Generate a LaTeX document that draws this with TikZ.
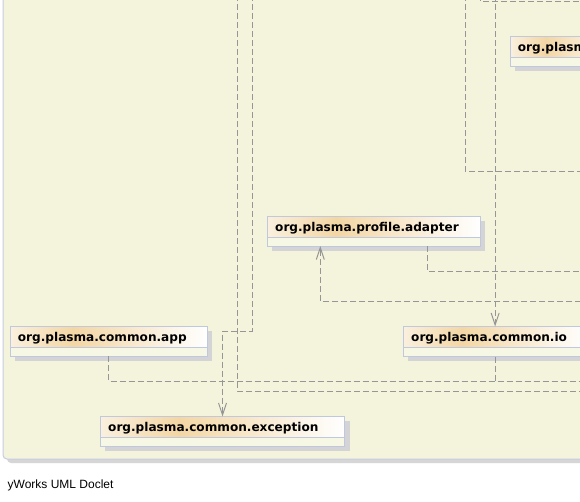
\documentclass[tikz,border=0pt]{standalone}
\usepackage{fontspec}
\setmainfont{DejaVu Sans}
\newfontfamily\capfont{Liberation Sans}
\usetikzlibrary{arrows.meta,calc}
\definecolor{bg}{RGB}{244,244,220}
\definecolor{panelborder}{RGB}{198,204,226}
\definecolor{panelshadow}{RGB}{214,214,214}
\definecolor{boxborder}{RGB}{192,200,222}
\definecolor{compfill}{RGB}{247,247,230}
\definecolor{boxshadow}{RGB}{212,212,214}
\definecolor{hdrA}{RGB}{250,240,222}
\definecolor{hdrB}{RGB}{243,214,164}
\definecolor{edgegray}{RGB}{150,150,150}
\pgfdeclarehorizontalshading{hdrshade}{100bp}{color(0bp)=(hdrA); color(25bp)=(hdrA); color(41bp)=(hdrB); color(75bp)=(white); color(100bp)=(white)}
\tikzset{
  edge/.style={draw=edgegray, line width=1pt, dash pattern=on 6pt off 3pt},
  tip/.style={-{Straight Barb[length=12pt,width=8pt,line width=1pt]}},
  classbox/.style={anchor=north west, inner sep=0pt, outer sep=0pt, minimum height=30pt},
  cname/.style={anchor=base west, inner sep=0pt, font=\bfseries\fontsize{12.1}{14}\selectfont},
}
\newcommand\umlclass[5]{% name, x, y, width, text
  \fill[boxshadow] (#2+5,#3+4.5) rectangle (#2+#4+5,#3+34.5);
  \node[classbox, minimum width=#4pt] (#1) at (#2,#3) {};
  \fill[compfill] (#1.north west) rectangle (#1.south east);
  \shade[shading=hdrshade] (#1.north west) rectangle ($(#1.north east)+(0,21)$);
  \draw[boxborder, line width=1pt] ($(#1.north west)+(0,21)$) -- ($(#1.north east)+(0,21)$);
  \draw[boxborder, line width=1pt] (#1.north west) rectangle (#1.south east);
  \node[cname] (#1-t) at ($(#1.north west)+(7.7,15.3)$) {#5};
}
\begin{document}
\begin{tikzpicture}[x=1pt,y=-1pt]
\clip (0,0) rectangle (580,501);
\useasboundingbox (0,0) rectangle (580,501);
\fill[white] (0,0) rectangle (580,501);
% panel
\fill[panelshadow, rounded corners=4pt] (7,-10) rectangle (600,463);
\filldraw[fill=bg, draw=panelborder, line width=1pt, rounded corners=4pt] (3,-10) rectangle (600,459);
% classes
\umlclass{plasm}{510}{36}{110}{org.plasm}
\umlclass{adapter}{267.3}{216}{213}{org.plasma.profile.adapter}
\umlclass{app}{10}{326}{197.3}{org.plasma.common.app}
\umlclass{io}{403.3}{326.5}{183.7}{org.plasma.common.io}
\umlclass{exc}{100.3}{416.5}{244.4}{org.plasma.common.exception}
% free ends
\coordinate (a0) at (237,-5);
\coordinate (aR) at (590,391);
\coordinate (b0) at (252,-5);
\coordinate (bK) at (252,331);
\coordinate (cR) at (590,381);
\coordinate (d0) at (495.15,-5);
\coordinate (e0) at (465,-5);
\coordinate (eR) at (590,171);
\coordinate (f0) at (480,-5);
\coordinate (fR) at (590,1);
\coordinate (gR) at (590,271);
\coordinate (hR) at (590,301);
% connectors
\draw[edge] (a0) |- (aR);
\draw[edge, tip] (b0) -- (bK) -| (exc.north);
\draw[edge] (app.south) |- (cR);
\draw[edge] (io.south) -- (io.south |- cR);
\draw[edge, tip] (d0) -- (io.north);
\draw[edge] (e0) |- (eR);
\draw[edge] (f0) |- (fR);
\draw[edge] ($(adapter.south west)+(160,0)$) |- (gR);
\draw[edge, tip] (hR) -| ($(adapter.south west)+(53,0)$);
% caption
\node[anchor=base west, inner sep=0pt, font=\capfont\fontsize{12}{14}\selectfont] (cap) at (7.5,488) {yWorks UML Doclet};
\end{tikzpicture}
\end{document}
